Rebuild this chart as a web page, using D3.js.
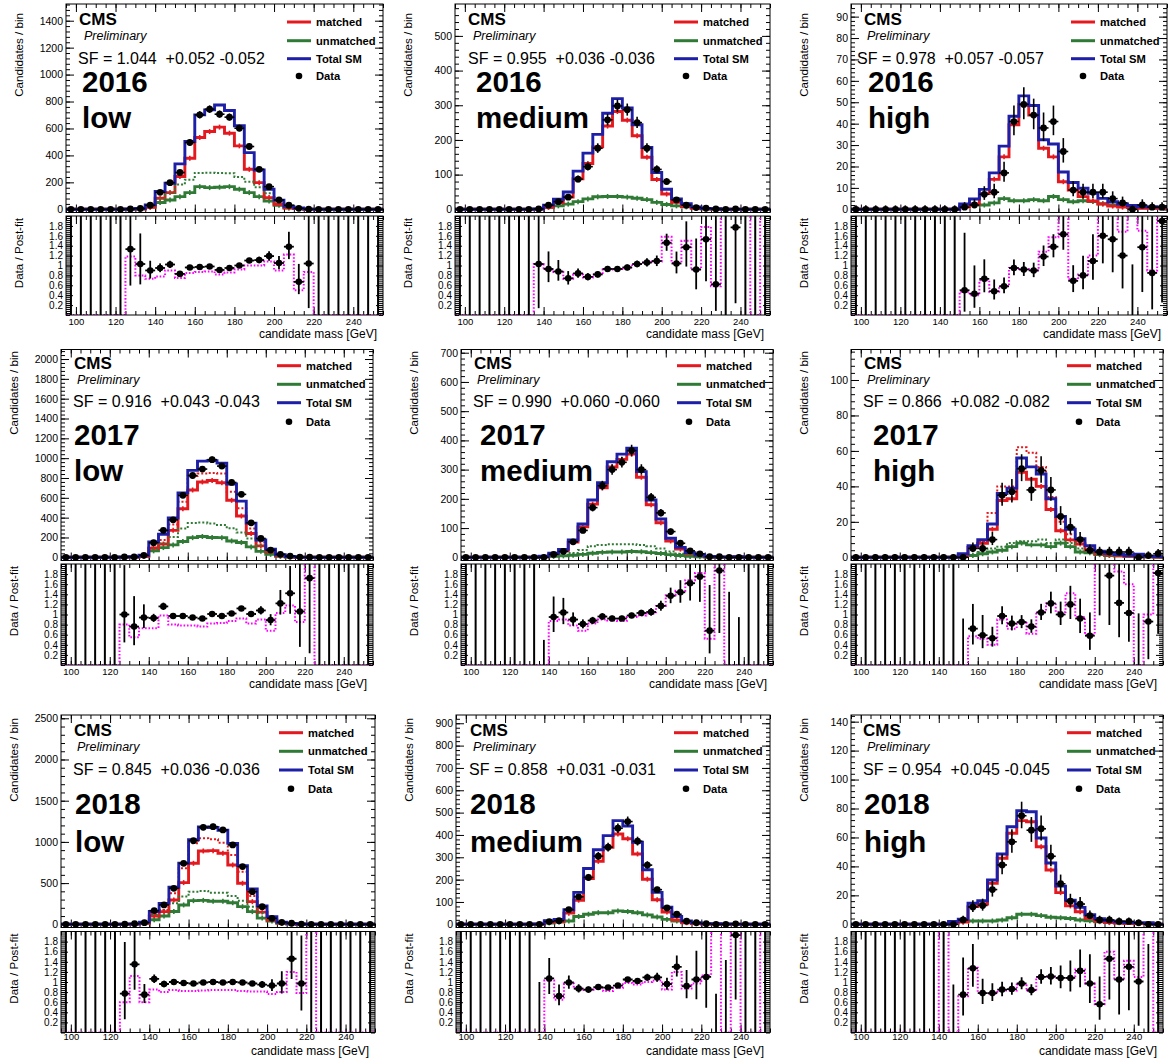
<!DOCTYPE html>
<html>
<head>
<meta charset="utf-8">
<title>Candidate mass fits</title>
<script src="https://cdn.jsdelivr.net/npm/d3@7/dist/d3.min.js"></script>
<style>
  html, body { margin: 0; padding: 0; background: #fff; }
  svg text { font-family: "Liberation Sans", Arial, Helvetica, sans-serif; fill: #000; }
</style>
</head>
<body>
<svg id="chart" width="1171" height="1059"></svg>
<script>
// ---------- binning and labels ----------
const massMin = 95, massMax = 255, binWidth = 5;
const binEdges = d3.range(massMin, massMax + binWidth / 2, binWidth);      // 33 edges, 32 bins
const binCentres = binEdges.slice(0, -1).map(e => e + binWidth / 2);
const massTicks = [100, 120, 140, 160, 180, 200, 220, 240];
const ratioTicks = [0.2, 0.4, 0.6, 0.8, 1.0, 1.2, 1.4, 1.6, 1.8];
const years = ["2016", "2017", "2018"];
const categories = ["low", "medium", "high"];
const sfLabels = [
  "SF = 1.044  +0.052 -0.052", "SF = 0.955  +0.036 -0.036", "SF = 0.978  +0.057 -0.057",
  "SF = 0.916  +0.043 -0.043", "SF = 0.990  +0.060 -0.060", "SF = 0.866  +0.082 -0.082",
  "SF = 0.845  +0.036 -0.036", "SF = 0.858  +0.031 -0.031", "SF = 0.954  +0.045 -0.045"
];
const yAxisMax   = [1524, 592, 95.9, 2096, 711, 117.2, 2540, 937, 144.6];
const yLabelStep = [200, 100, 10, 200, 100, 20, 500, 100, 20];
const yLabelTop  = [1400, 500, 90, 2000, 700, 100, 2500, 900, 140];
const legendLabels = ["matched", "unmatched", "Total SM", "Data"];

// ---------- 2016 low ----------
const matched_2016_low   = [0,0,0,0,0,0,1,2.5, 15,82,124,243,379,533,577,610, 565,471,297,198,87,38,12,5, 0.5,0,0,0,0,0,0,0];
const unmatched_2016_low = [0,0,0,0,0,0,1.25,3.3, 18,50,69,94,124,168,161,164, 168,149,124,94,62,30,10,5, 0.5,0,0,0,0,0,0,0];
const unmatchedPre_2016_low = [0,0,0,0,0,0,1.5,4, 20,80,125,185,220,270,272,270, 268,240,205,163,119,60,28,10, 3,0,0,0,0,0,0,0];
const data_2016_low      = [0,0,0,0,0,0,3,6, 30,126,198,273,496,701,743,706, 684,602,466,297,168,69,30,7, 1,0,0,0,0,0,0,0];
const ratio_2016_low     = [null,null,null,null,null,null,1.33,1.03, 0.9,0.95,1.02,0.83,0.96,0.97,0.98,0.91, 0.95,1.0,1.1,1.11,1.19,1.05,1.38,0.67, 1.04,null,null,null,null,null,null,null];
const prefit_2016_low    = [0,0,0,0,0,0,1.18,0.8, 0.73,0.78,0.9,0.75,0.85,0.87,0.88,0.82, 0.86,0.92,1.0,1.0,1.08,0.9,1.22,0.5, 0.87,0,0,0,0,0,0,0];

// ---------- 2016 medium ----------
const matched_2016_medium   = [0,0,0,0,0,0,0,0, 0.5,6,19,35,88,132,180,240, 282,257,212,150,86,44,20,9, 3,1.2,0.8,0,0.3,0,0,0];
const unmatched_2016_medium = [0,0,0,0,0,0,0,0, 0.5,6,10,15,22,30,36,37, 37,35,32,28,20,14,10,7, 4,1.2,0.8,0,0.27,0,0,0];
const data_2016_medium      = [0,0,0,0,0,0,0,0, 1,12,22,35,87,123,176,258, 298,287,250,176,115,80,27,12, 5,3,1,0,1,0,0,0];
const ratio_2016_medium     = [null,null,null,null,null,null,null,null, 1.03,0.93,0.88,0.74,0.84,0.77,0.82,0.93, 0.93,0.96,1.03,1.06,1.09,1.46,1.04,1.37, 0.92,1.53,0.62,null,1.77,null,null,null];
const prefit_2016_medium    = [0,0,0,0,0,0,0,0, 1.03,0.92,0.87,0.73,0.82,0.76,0.82,0.92, 0.93,0.96,1.03,1.06,1.08,1.58,1.05,1.5, 0.92,1.78,0.58,3,3,3,0,3];

// ---------- 2016 high ----------
const matched_2016_high   = [0,0,0,0,0,0,0,0, 0,0,0,1,2.5,7.3,14,24.5, 39.5,49,44,28.5,24.5,12.9,9,5.9, 3.9,2.5,1.5,1,0.8,0.5,0.5,0.5];
const unmatched_2016_high = [0,0,0,0,0,0,0,0, 0,0,0,1.5,2.3,2,3,5, 4,4,4.5,4,6,4.5,3.5,4, 3.6,2.6,2,1.5,1,0.7,0.7,0.5];
const data_2016_high      = [0,0,0,0,0,0,0,0, 0,0,0,1,2,7,8,17, 41,49,44,38,41,27,9,8, 8,8,5,3,0,2,1,1];
const ratio_2016_high     = [null,null,null,null,null,null,null,null, null,null,null,0.5,0.43,0.73,0.48,0.58, 0.95,0.92,0.9,1.18,1.38,1.63,0.69,0.8, 1.09,1.6,1.53,1.2,0,1.37,0.85,1.9];
const prefit_2016_high    = [0,0,0,0,0,0,0,0, 0,0,0,0.47,0.4,0.7,0.47,0.58, 0.95,0.93,0.9,1.28,1.57,3,0.72,0.82, 1.2,3,3,1.68,3,1.7,0.9,3];

// ---------- 2017 low ----------
const matched_2017_low      = [0,0,0,0,0,0,1.5,2.5, 10,91,134,272,490,679,760,775, 752,575,417,240,115,52,15,5, 1,0.3,0,0,0,0,0,0];
const unmatched_2017_low    = [0,0,0,0,0,0,1.5,2.5, 11,65,98,125,160,198,210,200, 198,165,150,105,60,30,10,3.5, 1,0.3,0,0,0,0,0,0];
const matchedPre_2017_low   = [0,0,0,0,0,0,2,3, 14,100,175,330,560,820,845,850, 845,660,494,290,150,65,25,9, 3,0,0,0,0,0,0,0];
const unmatchedPre_2017_low = [0,0,0,0,0,0,2,3, 15,90,140,205,290,345,350,340, 326,292,250,190,120,55,20,8, 3,0,0,0,0,0,0,0];
const data_2017_low         = [0,0,0,0,0,0,3,4, 20,147,272,378,625,825,890,985, 920,755,635,348,190,73,30,12, 2,1,0,0,0,0,0,0];
const ratio_2017_low        = [null,null,null,null,null,null,1.0,0.76, 0.94,0.93,1.16,0.97,0.97,0.94,0.92,1.01, 0.97,1.02,1.12,1.01,1.08,0.89,1.22,1.42, 1.06,1.72,null,null,null,null,null,null];
const prefit_2017_low       = [0,0,0,0,0,0,0.8,0.55, 0.73,0.73,0.98,0.8,0.78,0.78,0.76,0.82, 0.83,0.87,0.92,0.82,0.9,0.68,1.03,1.18, 0.85,3,0,0,0,0,0,0];

// ---------- 2017 medium ----------
const matched_2017_medium      = [0,0,0,0,0,0,0,0, 2,11,22,52,104,182,238,309, 335,353,274,180,118,56,28,13, 6,2,0.7,0.7,1,0,0,0];
const unmatched_2017_medium    = [0,0,0,0,0,0,0,0, 1.7,3,5,7,10,14,17,18, 18,20,19,16,13,9,6,3, 2,1,0.4,0.57,0.94,0,0,0];
const unmatchedPre_2017_medium = [0,0,0,0,0,0,0,0, 2,5,8,15,25,38,42,45, 45,45,42,38,30,20,12,6, 3,1,0,0,0,0,0,0];
const data_2017_medium         = [0,0,0,0,0,0,0,0, 0,10,20,53,92,170,245,300, 325,365,300,205,152,88,48,22, 12,2,2,0,0,0,0,0];
const ratio_2017_medium        = [null,null,null,null,null,null,null,null, 0,0.95,1.04,0.9,0.81,0.88,0.96,0.92, 0.92,0.98,1.03,1.05,1.17,1.37,1.44,1.62, 1.75,0.68,1.87,0,0,null,null,null];
const prefit_2017_medium       = [0,0,0,0,0,0,0,0, 0,0.87,0.9,0.78,0.68,0.82,0.9,0.88, 0.87,0.95,0.98,1.02,1.17,1.38,1.47,1.68, 1.82,0.52,3,0,0,0,0,0];

// ---------- 2017 high ----------
const matched_2017_high      = [0,0,0,0,0,0,0,0, 0,0,0,1,5.6,7.9,15.8,32, 33,48,44,40,27,15,9.8,7.5, 4.1,2,1.2,0.8,0.5,0.8,0.3,0.2];
const unmatched_2017_high    = [0,0,0,0,0,0,0,0, 0,0,0,1,1,2,3,4, 6,8,7,7,6,8,6,3, 2.5,1.5,1,0.8,0.5,1,0.3,0.2];
const matchedPre_2017_high   = [0,0,0,0,0,0,0,0, 0,0,0,1,6,9,25,40, 40,62,59,51,34,20,13,9, 5,3,1.5,1,0.5,0.8,0.3,0.2];
const unmatchedPre_2017_high = [0,0,0,0,0,0,0,0, 0,0,0,1,1.5,3,5,6, 8,9,9,10,8,10,8,5, 3.5,2,1.5,1,0.5,1,0.3,0.2];
const data_2017_high         = [0,0,0,0,0,0,0,0, 0,0,0,0,5,5,10,35, 37,50,38,49,38,23,17,10, 4,3,3,3,3,0,1,2];
const ratio_2017_high        = [null,null,null,null,null,null,null,null, null,null,null,0,0.72,0.59,0.53,0.97, 0.82,0.85,0.76,1.04,1.22,1.0,1.2,0.92, 0.58,2.2,1.77,1.23,1.03,0,0.86,1.82];
const prefit_2017_high       = [0,0,0,0,0,0,0,0, 0,0,0,0,0.57,0.52,0.4,0.9, 0.72,0.83,0.62,1.05,1.22,1.05,1.42,0.95, 0.6,3,3,1.85,1.6,0,1.0,3];

// ---------- 2018 low ----------
const matched_2018_low      = [0,0,0,0,0,0,1.3,2.6, 12,100,154,295,506,740,890,894, 862,720,498,275,148,53,14,5, 1.5,0,0,0,0,0,0,0];
const unmatched_2018_low    = [0,0,0,0,0,0,1.3,2.6, 14,55,100,155,235,287,290,280, 280,262,214,154,75,40,11,4, 1.5,0,0,0,0,0,0,0];
const matchedPre_2018_low   = [0,0,0,0,0,0,1.5,3, 15,125,174,376,680,983,1044,1032, 991,841,639,344,194,70,20,6, 2,0,0,0,0,0,0,0];
const unmatchedPre_2018_low = [0,0,0,0,0,0,1.5,3, 18,113,174,255,336,396,405,384, 384,344,287,214,140,60,15,5, 2,0,0,0,0,0,0,0];
const data_2018_low         = [0,0,0,0,0,0,2,7, 20,166,235,437,740,1015,1177,1185, 1145,963,700,396,214,73,24,13, 3,0,0,0,0,0,0,0];
const ratio_2018_low        = [null,null,null,null,null,null,0.77,1.35, 0.75,1.06,0.96,1.0,0.98,0.97,0.99,1.0, 0.99,1.0,0.99,0.97,0.95,0.93,0.97,1.46, 0.97,null,null,null,null,null,null,null];
const prefit_2018_low       = [0,0,0,0,0,0,0.6,1.12, 0.6,0.85,0.8,0.84,0.82,0.82,0.83,0.84, 0.84,0.84,0.82,0.81,0.81,0.76,0.8,1.2, 0.78,3,0,0,0,0,0,0];

// ---------- 2018 medium ----------
const matched_2018_medium   = [0,0,0,0,0,0,0,0, 1,10,12,50,108,205,282,345, 404,383,315,202,110,55,20,7, 3,1,1.5,0.8,0.6,0,0,0];
const unmatched_2018_medium = [0,0,0,0,0,0,0,0, 0.84,6,10,15,35,45,52,52, 60,57,52,42,33,22,15,8, 4,2,0.9,0.48,0.4,0,0,0];
const data_2018_medium      = [0,0,0,0,0,0,0,0, 0,12,16,66,123,210,305,345, 430,460,372,265,155,73,45,14, 7,3,0,0,2,0,0,0];
const ratio_2018_medium     = [null,null,null,null,null,null,null,null, 0,1.07,0.72,0.99,0.87,0.85,0.9,0.89, 0.93,1.05,1.02,1.09,1.09,0.96,1.3,0.92, 1.05,1.1,0,0,1.93,null,null,null];
const prefit_2018_medium    = [0,0,0,0,0,0,0,0, 0,1.03,0.65,0.97,0.87,0.84,0.88,0.82, 0.88,0.98,0.95,1.0,1.03,0.85,1.2,0.87, 0.97,1.13,3,0,3,0,0,3];

// ---------- 2018 high ----------
const matched_2018_high   = [0,0,0,0,0,0,0,0, 0,0,0.9,1.5,12.2,14,28.3,45.6, 62.9,71.6,70.9,53.6,37.5,21.9,12.7,8.7, 4.1,2,1.2,0.8,0.5,0.5,0.6,0];
const unmatched_2018_high = [0,0,0,0,0,0,0,0, 0,0,1.04,2,2.3,2.3,2.3,3, 4.5,6.9,6.9,6,4.9,4.5,4,3, 2.5,1.8,1.2,1,0.7,0.5,0.45,0];
const data_2018_high      = [0,0,0,0,0,0,0,0, 0,0,0,3,12,13,24,41, 57,75,65,66,47,28,16,14, 6,3,3,2,2,1,0,0];
const ratio_2018_high     = [null,null,null,null,null,null,null,null, null,null,0,0.75,1.27,0.78,0.78,0.85, 0.86,0.97,0.84,1.1,1.11,1.08,1.08,1.22, 0.97,0.56,1.46,1.05,1.3,1.01,0,null];
const prefit_2018_high    = [0,0,0,0,0,0,0,0, 0,3,0,0.72,1.28,0.78,0.77,0.83, 0.83,0.95,0.82,1.1,1.1,1.08,1.08,1.25, 0.97,0.56,1.6,1.07,1.42,1.1,3,0];

const panelData = [
  { matched: matched_2016_low, unmatched: unmatched_2016_low, matchedPre: null, unmatchedPre: unmatchedPre_2016_low, data: data_2016_low, ratio: ratio_2016_low, prefit: prefit_2016_low },
  { matched: matched_2016_medium, unmatched: unmatched_2016_medium, matchedPre: null, unmatchedPre: null, data: data_2016_medium, ratio: ratio_2016_medium, prefit: prefit_2016_medium },
  { matched: matched_2016_high, unmatched: unmatched_2016_high, matchedPre: null, unmatchedPre: null, data: data_2016_high, ratio: ratio_2016_high, prefit: prefit_2016_high },
  { matched: matched_2017_low, unmatched: unmatched_2017_low, matchedPre: matchedPre_2017_low, unmatchedPre: unmatchedPre_2017_low, data: data_2017_low, ratio: ratio_2017_low, prefit: prefit_2017_low },
  { matched: matched_2017_medium, unmatched: unmatched_2017_medium, matchedPre: null, unmatchedPre: unmatchedPre_2017_medium, data: data_2017_medium, ratio: ratio_2017_medium, prefit: prefit_2017_medium },
  { matched: matched_2017_high, unmatched: unmatched_2017_high, matchedPre: matchedPre_2017_high, unmatchedPre: unmatchedPre_2017_high, data: data_2017_high, ratio: ratio_2017_high, prefit: prefit_2017_high },
  { matched: matched_2018_low, unmatched: unmatched_2018_low, matchedPre: matchedPre_2018_low, unmatchedPre: unmatchedPre_2018_low, data: data_2018_low, ratio: ratio_2018_low, prefit: prefit_2018_low },
  { matched: matched_2018_medium, unmatched: unmatched_2018_medium, matchedPre: null, unmatchedPre: null, data: data_2018_medium, ratio: ratio_2018_medium, prefit: prefit_2018_medium },
  { matched: matched_2018_high, unmatched: unmatched_2018_high, matchedPre: null, unmatchedPre: null, data: data_2018_high, ratio: ratio_2018_high, prefit: prefit_2018_high }
];

// ---------- layout ----------
const rowLayout = [
  { T: 4,     Z: 209.3, upBot: 212.5, lowTop: 216,   lowBot: 315,    tickPad: 3.5, xTitleBase: 338,    yTitleEnd: 13,  cmsY: 20,    prelimY: 33,  sfY: 58,    legY: [22, 40.7, 58.7, 76],          yearBase: 92,  catBase: 128 },
  { T: 349.5, Z: 557.3, upBot: 560.5, lowTop: 564,   lowBot: 665,    tickPad: 3.5, xTitleBase: 688,    yTitleEnd: 351, cmsY: 364,   prelimY: 379, sfY: 401.7, legY: [365.7, 384.3, 402.7, 421.7],  yearBase: 445, catBase: 481 },
  { T: 715,   Z: 924.3, upBot: 927.5, lowTop: 931.5, lowBot: 1032.5, tickPad: 0.5, xTitleBase: 1055,   yTitleEnd: 718, cmsY: 730.7, prelimY: 746, sfY: 769,   legY: [732.7, 751.3, 770, 788.7],    yearBase: 814, catBase: 851.7 }
];
const colLayout = [
  [ { L: 66, R: 383, cms: 13, prelim: 18, sf: 12, year: 16 }, { L: 455, R: 770, cms: 13, prelim: 18, sf: 13, year: 21 }, { L: 851, R: 1167, cms: 13, prelim: 16, sf: 6, year: 17 } ],
  [ { L: 61, R: 373, cms: 13, prelim: 16, sf: 12, year: 13 }, { L: 461, R: 773, cms: 13, prelim: 16, sf: 12, year: 19 }, { L: 851, R: 1163, cms: 13, prelim: 16, sf: 12, year: 22 } ],
  [ { L: 61, R: 375, cms: 13, prelim: 16, sf: 12, year: 14 }, { L: 456, R: 770, cms: 14, prelim: 17, sf: 13, year: 14 }, { L: 851, R: 1163, cms: 12, prelim: 16, sf: 12, year: 13 } ]
];

const colours = { matched: "#e3191f", unmatched: "#2f7a35", total: "#1d1fa6", prefit: "#ff00ff" };
const cmsSize = 17, prelimSize = 12.5;

const svg = d3.select("#chart");

// Garwood-style interval for a Poisson count
function poissonInterval(n) {
  return n <= 0 ? [0, 1.84] : [n - Math.sqrt(n - 0.25), n + 1 + Math.sqrt(n + 0.75)];
}
function stepPoints(values) {
  const pts = [];
  values.forEach((v, i) => { pts.push([binEdges[i], v]); pts.push([binEdges[i + 1], v]); });
  return pts;
}
function styleAxis(sel, fontSize) {
  sel.select(".domain").remove();
  sel.selectAll(".tick line").attr("stroke", "#000").attr("stroke-width", 1);
  sel.selectAll(".tick text").attr("font-size", fontSize).attr("fill", "#000")
     .style("font-family", '"Liberation Sans", Arial, sans-serif');
}

function drawPanel(k) {
  const row = Math.floor(k / 3), col = k % 3;
  const rg = rowLayout[row], cg = colLayout[row][col];
  const { L, R } = cg;
  const p = panelData[k];
  const g = svg.append("g");

  const x = d3.scaleLinear().domain([massMin, massMax]).range([L, R]);
  const y = d3.scaleLinear().domain([0, yAxisMax[k]]).range([rg.Z, rg.T]);
  const r = d3.scaleLinear().domain([0, 2]).range([rg.lowBot, rg.lowTop]);
  const total = p.matched.map((m, i) => m + p.unmatched[i]);

  // ----- axes and ticks of the upper pad -----
  const yMajor = d3.range(0, yLabelTop[k] + yLabelStep[k] / 2, yLabelStep[k]);
  const yMinor = d3.range(0, yAxisMax[k], yLabelStep[k] / 5);
  const xMinor = d3.range(massMin, massMax + 0.1, 5);

  g.append("g").attr("transform", `translate(${L},0)`)
    .call(d3.axisLeft(y).tickValues(yMinor).tickSize(-4).tickFormat("")).call(s => styleAxis(s, 10));
  g.append("g").attr("transform", `translate(${L},0)`)
    .call(d3.axisLeft(y).tickValues(yMajor).tickSize(-8).tickPadding(3).tickFormat(d3.format("d")))
    .call(s => styleAxis(s, 10.5));
  g.append("g").attr("transform", `translate(${R},0)`)
    .call(d3.axisRight(y).tickValues(yMinor).tickSize(-4).tickFormat("")).call(s => styleAxis(s, 10));
  g.append("g").attr("transform", `translate(${R},0)`)
    .call(d3.axisRight(y).tickValues(yMajor).tickSize(-8).tickFormat("")).call(s => styleAxis(s, 10));
  g.append("g").attr("transform", `translate(0,${rg.T})`)
    .call(d3.axisTop(x).tickValues(xMinor).tickSize(-4).tickFormat("")).call(s => styleAxis(s, 10));
  g.append("g").attr("transform", `translate(0,${rg.T})`)
    .call(d3.axisTop(x).tickValues(massTicks).tickSize(-8).tickFormat("")).call(s => styleAxis(s, 10));
  g.append("g").attr("transform", `translate(0,${rg.upBot})`)
    .call(d3.axisBottom(x).tickValues(xMinor).tickSize(-4).tickFormat("")).call(s => styleAxis(s, 10));
  g.append("g").attr("transform", `translate(0,${rg.upBot})`)
    .call(d3.axisBottom(x).tickValues(massTicks).tickSize(-8).tickFormat("")).call(s => styleAxis(s, 10));

  // ----- axes and ticks of the ratio pad -----
  const rMinor = d3.range(0, 2.001, 0.04);
  g.append("g").attr("transform", `translate(${L},0)`)
    .call(d3.axisLeft(r).tickValues(rMinor).tickSize(-4).tickFormat("")).call(s => styleAxis(s, 10));
  g.append("g").attr("transform", `translate(${L},0)`)
    .call(d3.axisLeft(r).tickValues(ratioTicks).tickSize(-7).tickPadding(3)
      .tickFormat(d => (Math.abs(d - 1) < 1e-9 ? "1" : d3.format(".1f")(d))))
    .call(s => styleAxis(s, 10));
  g.append("g").attr("transform", `translate(${R},0)`)
    .call(d3.axisRight(r).tickValues(rMinor).tickSize(-4).tickFormat("")).call(s => styleAxis(s, 10));
  g.append("g").attr("transform", `translate(${R},0)`)
    .call(d3.axisRight(r).tickValues(ratioTicks).tickSize(-7).tickFormat("")).call(s => styleAxis(s, 10));
  g.append("g").attr("transform", `translate(0,${rg.lowTop})`)
    .call(d3.axisTop(x).tickValues(xMinor).tickSize(-4).tickFormat("")).call(s => styleAxis(s, 10));
  g.append("g").attr("transform", `translate(0,${rg.lowTop})`)
    .call(d3.axisTop(x).tickValues(massTicks).tickSize(-8).tickFormat("")).call(s => styleAxis(s, 10));
  g.append("g").attr("transform", `translate(0,${rg.lowBot})`)
    .call(d3.axisBottom(x).tickValues(xMinor).tickSize(-4).tickFormat("")).call(s => styleAxis(s, 10));
  g.append("g").attr("transform", `translate(0,${rg.lowBot})`)
    .call(d3.axisBottom(x).tickValues(massTicks).tickSize(-8).tickPadding(rg.tickPad).tickFormat(d3.format("d")))
    .call(s => styleAxis(s, 9.5));

  // ----- stacked MC and data in the upper pad -----
  const line = d3.line().x(d => x(d[0])).y(d => y(d[1]));
  const hist = (vals, colour, dash, width) => g.append("path")
      .attr("d", line(stepPoints(vals))).attr("fill", "none").attr("stroke", colour)
      .attr("stroke-width", width).attr("stroke-dasharray", dash)
      .attr("stroke-linejoin", "miter");

  // MC statistical uncertainty markers
  [[p.unmatched, colours.unmatched], [p.matched, colours.matched]].forEach(([vals, colour]) => {
    const pts = binCentres.map((c, i) => [c, vals[i]]).filter(d => d[1] >= 1);
    g.append("g").selectAll("line").data(pts).join("line")
      .attr("x1", d => x(d[0])).attr("x2", d => x(d[0]))
      .attr("y1", d => y(d[1]) - 2.5).attr("y2", d => y(d[1]) + 2.5)
      .attr("stroke", colour).attr("stroke-width", 1.6);
  });

  hist(p.unmatched, colours.unmatched, null, 2.9);
  hist(p.matched, colours.matched, null, 2.9);
  if (p.unmatchedPre) hist(p.unmatchedPre, colours.unmatched, "2,2", 2);
  if (p.matchedPre) hist(p.matchedPre, colours.matched, "2,2", 2);
  hist(total, colours.total, null, 2.9);

  const dataG = g.append("g");
  p.data.forEach((n, i) => {
    const [lo, hi] = poissonInterval(n);
    const xc = x(binCentres[i]);
    dataG.append("line").attr("x1", xc).attr("x2", xc).attr("y1", y(lo)).attr("y2", y(hi))
      .attr("stroke", "#000").attr("stroke-width", 1.6);
    dataG.append("line").attr("x1", x(binEdges[i])).attr("x2", x(binEdges[i + 1]))
      .attr("y1", y(n)).attr("y2", y(n)).attr("stroke", "#000").attr("stroke-width", 1.6);
    dataG.append("circle").attr("cx", xc).attr("cy", y(n)).attr("r", 3.4).attr("fill", "#000");
  });

  // ----- ratio pad -----
  const clipId = `ratioClip${k}`;
  g.append("clipPath").attr("id", clipId).append("rect")
    .attr("x", L).attr("y", rg.lowTop).attr("width", R - L).attr("height", rg.lowBot - rg.lowTop);
  const rg2 = g.append("g").attr("clip-path", `url(#${clipId})`);
  const rline = d3.line().x(d => x(d[0])).y(d => r(d[1]));
  rg2.append("path").attr("d", rline(stepPoints(p.prefit))).attr("fill", "none")
    .attr("stroke", colours.prefit).attr("stroke-width", 2).attr("stroke-dasharray", "1.6,1.8");

  p.ratio.forEach((v, i) => {
    const xc = x(binCentres[i]);
    if (v === null) {
      rg2.append("line").attr("x1", xc).attr("x2", xc).attr("y1", rg.lowTop).attr("y2", rg.lowBot)
        .attr("stroke", "#000").attr("stroke-width", 2);
    } else if (v === 0) {
      const mc = total[i];
      rg2.append("line").attr("x1", xc).attr("x2", xc).attr("y1", r(0)).attr("y2", r(1.84 / mc))
        .attr("stroke", "#000").attr("stroke-width", 1.8);
    } else {
      const n = p.data[i];
      const [lo, hi] = poissonInterval(n);
      rg2.append("line").attr("x1", xc).attr("x2", xc).attr("y1", r(v * lo / n)).attr("y2", r(v * hi / n))
        .attr("stroke", "#000").attr("stroke-width", 1.8);
      rg2.append("line").attr("x1", x(binEdges[i])).attr("x2", x(binEdges[i + 1])).attr("y1", r(v)).attr("y2", r(v))
        .attr("stroke", "#000").attr("stroke-width", 1.8);
      rg2.append("circle").attr("cx", xc).attr("cy", r(v)).attr("r", 3.3).attr("fill", "#000");
    }
  });

  // ----- frames -----
  g.append("rect").attr("x", L).attr("y", rg.T).attr("width", R - L).attr("height", rg.upBot - rg.T)
    .attr("fill", "none").attr("stroke", "#000").attr("stroke-width", 1);
  g.append("rect").attr("x", L).attr("y", rg.lowTop).attr("width", R - L).attr("height", rg.lowBot - rg.lowTop)
    .attr("fill", "none").attr("stroke", "#000").attr("stroke-width", 1);

  // ----- titles -----
  const yTitleX = L - 47.5 + 4;
  g.append("text").attr("transform", `translate(${yTitleX},${rg.yTitleEnd}) rotate(-90)`)
    .attr("text-anchor", "end").attr("font-size", 11.6).text("Candidates / bin");
  g.append("text").attr("transform", `translate(${yTitleX},${rg.lowTop + 2}) rotate(-90)`)
    .attr("text-anchor", "end").attr("font-size", 11.6).text("Data / Post-fit");
  g.append("text").attr("x", R - 6).attr("y", rg.xTitleBase).attr("text-anchor", "end")
    .attr("font-size", 12).text("candidate mass [GeV]");

  // ----- CMS label, scale factor, year / category -----
  const cmsBase = rg.cmsY + 5;
  const prelimBase = Math.max(rg.prelimY + 3.5, cmsBase + 0.212 * cmsSize + 0.905 * prelimSize + 0.3);
  g.append("text").attr("x", L + cg.cms).attr("y", cmsBase).attr("font-size", cmsSize)
    .attr("font-weight", "bold").text("CMS");
  g.append("text").attr("x", L + cg.prelim).attr("y", prelimBase).attr("font-size", prelimSize)
    .attr("font-style", "italic").text("Preliminary");
  g.append("text").attr("x", L + cg.sf).attr("y", rg.sfY + 5.6).attr("font-size", 16)
    .attr("xml:space", "preserve").style("white-space", "pre").text(sfLabels[k]);
  g.append("text").attr("x", L + cg.year).attr("y", rg.yearBase).attr("font-size", 29.5)
    .attr("font-weight", "bold").text(years[row]);
  g.append("text").attr("x", L + cg.year).attr("y", rg.catBase).attr("font-size", 29.5)
    .attr("font-weight", "bold").text(categories[col]);

  // ----- legend -----
  const legColours = [colours.matched, colours.unmatched, colours.total, null];
  legendLabels.forEach((lab, j) => {
    const ly = rg.legY[j];
    if (legColours[j]) {
      g.append("line").attr("x1", R - 96).attr("x2", R - 72).attr("y1", ly).attr("y2", ly)
        .attr("stroke", legColours[j]).attr("stroke-width", 3);
    } else {
      g.append("circle").attr("cx", R - 84).attr("cy", ly).attr("r", 3.3).attr("fill", "#000");
    }
    g.append("text").attr("x", R - 67).attr("y", ly + 4).attr("font-size", 11.2)
      .attr("font-weight", "bold").text(lab);
  });
}

for (let k = 0; k < 9; k++) drawPanel(k);
</script>
</body>
</html>
